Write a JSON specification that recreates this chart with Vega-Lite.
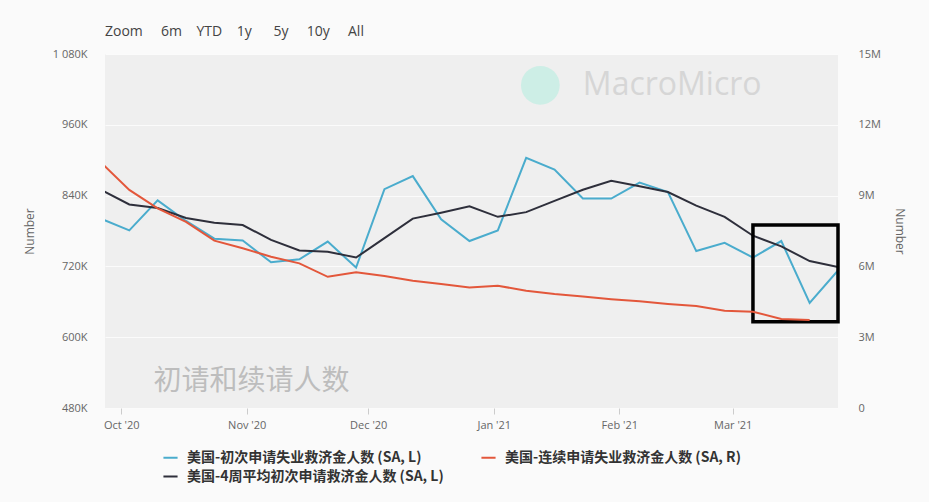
{
  "$schema": "https://vega.github.io/schema/vega-lite/v6.json",
  "width": 733,
  "height": 354,
  "autosize": {"type": "none"},
  "padding": {"left": 105, "top": 54, "right": 91, "bottom": 94},
  "background": "#fafafa",
  "title": {"text": "Zoom\u00a0\u00a0\u00a0\u00a0\u00a06m\u00a0\u00a0\u00a0\u00a0YTD\u00a0\u00a0\u00a0\u00a01y\u00a0\u00a0\u00a0\u00a0\u00a0\u00a05y\u00a0\u00a0\u00a0\u00a0\u00a010y\u00a0\u00a0\u00a0\u00a0\u00a0All", "anchor": "start", "frame": "group", "fontSize": 14, "font": "Open Sans", "fontWeight": "normal", "color": "#444444", "offset": 9},
  "config": {
    "view": {"fill": "#efefef", "stroke": null},
    "axis": {"labelFont": "Open Sans", "labelFontSize": 11, "labelColor": "#666666", "titleFont": "Open Sans", "titleFontSize": 12, "titleColor": "#666666", "titleFontWeight": "normal", "domain": false},
    "legend": {"labelFont": "Noto Sans CJK SC", "labelFontSize": 14, "labelFontWeight": "bold", "labelColor": "#333333", "labelLimit": 600}
  },
  "datasets": {
    "claims": [
      {"date": "2020-09-26", "series": "ic", "value": 801000},
      {"date": "2020-10-03", "series": "ic", "value": 781000},
      {"date": "2020-10-10", "series": "ic", "value": 832000},
      {"date": "2020-10-17", "series": "ic", "value": 797000},
      {"date": "2020-10-24", "series": "ic", "value": 767000},
      {"date": "2020-10-31", "series": "ic", "value": 764000},
      {"date": "2020-11-07", "series": "ic", "value": 727000},
      {"date": "2020-11-14", "series": "ic", "value": 732000},
      {"date": "2020-11-21", "series": "ic", "value": 762000},
      {"date": "2020-11-28", "series": "ic", "value": 718000},
      {"date": "2020-12-05", "series": "ic", "value": 851000},
      {"date": "2020-12-12", "series": "ic", "value": 873000},
      {"date": "2020-12-19", "series": "ic", "value": 800000},
      {"date": "2020-12-26", "series": "ic", "value": 763000},
      {"date": "2021-01-02", "series": "ic", "value": 781000},
      {"date": "2021-01-09", "series": "ic", "value": 904000},
      {"date": "2021-01-16", "series": "ic", "value": 884000},
      {"date": "2021-01-23", "series": "ic", "value": 835000},
      {"date": "2021-01-30", "series": "ic", "value": 835000},
      {"date": "2021-02-06", "series": "ic", "value": 862000},
      {"date": "2021-02-13", "series": "ic", "value": 846000},
      {"date": "2021-02-20", "series": "ic", "value": 746000},
      {"date": "2021-02-27", "series": "ic", "value": 760000},
      {"date": "2021-03-06", "series": "ic", "value": 735000},
      {"date": "2021-03-13", "series": "ic", "value": 763000},
      {"date": "2021-03-20", "series": "ic", "value": 658000},
      {"date": "2021-03-27", "series": "ic", "value": 713000},
      {"date": "2020-09-26", "series": "avg", "value": 850000},
      {"date": "2020-10-03", "series": "avg", "value": 825000},
      {"date": "2020-10-10", "series": "avg", "value": 819000},
      {"date": "2020-10-17", "series": "avg", "value": 802000},
      {"date": "2020-10-24", "series": "avg", "value": 794000},
      {"date": "2020-10-31", "series": "avg", "value": 790000},
      {"date": "2020-11-07", "series": "avg", "value": 765000},
      {"date": "2020-11-14", "series": "avg", "value": 747000},
      {"date": "2020-11-21", "series": "avg", "value": 745000},
      {"date": "2020-11-28", "series": "avg", "value": 735000},
      {"date": "2020-12-05", "series": "avg", "value": 768000},
      {"date": "2020-12-12", "series": "avg", "value": 801000},
      {"date": "2020-12-19", "series": "avg", "value": 811000},
      {"date": "2020-12-26", "series": "avg", "value": 822000},
      {"date": "2021-01-02", "series": "avg", "value": 804000},
      {"date": "2021-01-09", "series": "avg", "value": 812000},
      {"date": "2021-01-16", "series": "avg", "value": 831000},
      {"date": "2021-01-23", "series": "avg", "value": 850000},
      {"date": "2021-01-30", "series": "avg", "value": 865000},
      {"date": "2021-02-06", "series": "avg", "value": 856000},
      {"date": "2021-02-13", "series": "avg", "value": 846000},
      {"date": "2021-02-20", "series": "avg", "value": 823000},
      {"date": "2021-02-27", "series": "avg", "value": 804000},
      {"date": "2021-03-06", "series": "avg", "value": 772000},
      {"date": "2021-03-13", "series": "avg", "value": 754000},
      {"date": "2021-03-20", "series": "avg", "value": 729000},
      {"date": "2021-03-27", "series": "avg", "value": 719000},
      {"date": "2020-09-26", "series": "cc", "value": 10400000},
      {"date": "2020-10-03", "series": "cc", "value": 9240000},
      {"date": "2020-10-10", "series": "cc", "value": 8460000},
      {"date": "2020-10-17", "series": "cc", "value": 7890000},
      {"date": "2020-10-24", "series": "cc", "value": 7090000},
      {"date": "2020-10-31", "series": "cc", "value": 6770000},
      {"date": "2020-11-07", "series": "cc", "value": 6410000},
      {"date": "2020-11-14", "series": "cc", "value": 6130000},
      {"date": "2020-11-21", "series": "cc", "value": 5560000},
      {"date": "2020-11-28", "series": "cc", "value": 5750000},
      {"date": "2020-12-05", "series": "cc", "value": 5590000},
      {"date": "2020-12-12", "series": "cc", "value": 5390000},
      {"date": "2020-12-19", "series": "cc", "value": 5250000},
      {"date": "2020-12-26", "series": "cc", "value": 5110000},
      {"date": "2021-01-02", "series": "cc", "value": 5180000},
      {"date": "2021-01-09", "series": "cc", "value": 4970000},
      {"date": "2021-01-16", "series": "cc", "value": 4830000},
      {"date": "2021-01-23", "series": "cc", "value": 4720000},
      {"date": "2021-01-30", "series": "cc", "value": 4610000},
      {"date": "2021-02-06", "series": "cc", "value": 4520000},
      {"date": "2021-02-13", "series": "cc", "value": 4410000},
      {"date": "2021-02-20", "series": "cc", "value": 4320000},
      {"date": "2021-02-27", "series": "cc", "value": 4120000},
      {"date": "2021-03-06", "series": "cc", "value": 4080000},
      {"date": "2021-03-13", "series": "cc", "value": 3770000},
      {"date": "2021-03-20", "series": "cc", "value": 3730000}
    ]
  },
  "layer": [
    {
      "layer": [
        {
          "data": {"values": [{}]},
          "mark": {"type": "text", "align": "left", "baseline": "middle", "font": "Noto Sans CJK SC", "fontSize": 28, "color": "#bdbdbd"},
          "encoding": {
            "x": {"datum": {"year": 2020, "month": 10, "date": 9, "utc": true}, "type": "temporal"},
            "y": {"datum": 524000, "type": "quantitative"},
            "text": {"value": "初请和续请人数"}
          }
        },
        {
          "data": {"values": [{}]},
          "mark": {"type": "point", "filled": true, "shape": "circle", "size": 1500, "color": "#cdeee6", "opacity": 1},
          "encoding": {
            "x": {"datum": {"year": 2021, "month": 1, "date": 12, "hours": 12, "utc": true}, "type": "temporal"},
            "y": {"datum": 1027000, "type": "quantitative"}
          }
        },
        {
          "data": {"values": [{}]},
          "mark": {"type": "text", "align": "left", "baseline": "middle", "font": "Open Sans", "fontSize": 32, "color": "#d6d6d6"},
          "encoding": {
            "x": {"datum": {"year": 2021, "month": 1, "date": 23, "utc": true}, "type": "temporal"},
            "y": {"datum": 1027000, "type": "quantitative"},
            "text": {"value": "MacroMicro"}
          }
        },
        {
          "data": {"name": "claims"},
          "transform": [{"filter": "datum.series != 'cc'"}],
          "mark": {"type": "line", "clip": true, "strokeWidth": 2},
          "encoding": {
            "x": {
              "field": "date", "type": "temporal",
              "scale": {"type": "utc", "domain": [{"year": 2020, "month": 9, "date": 27, "utc": true}, {"year": 2021, "month": 3, "date": 27, "utc": true}]},
              "axis": {
                "title": null, "format": "%b '%y", "grid": false, "ticks": true, "tickSize": 6, "tickColor": "#cccccc", "labelPadding": 5,
                "values": [
                  {"year": 2020, "month": 10, "date": 1, "utc": true},
                  {"year": 2020, "month": 11, "date": 1, "utc": true},
                  {"year": 2020, "month": 12, "date": 1, "utc": true},
                  {"year": 2021, "month": 1, "date": 1, "utc": true},
                  {"year": 2021, "month": 2, "date": 1, "utc": true},
                  {"year": 2021, "month": 3, "date": 1, "utc": true}
                ]
              }
            },
            "y": {
              "field": "value", "type": "quantitative",
              "scale": {"domain": [480000, 1080000], "nice": false, "zero": false},
              "axis": {
                "orient": "left", "title": "Number", "values": [480000, 600000, 720000, 840000, 960000, 1080000],
                "labelExpr": "datum.value == 1080000 ? '1 080K' : (datum.value / 1000) + 'K'",
                "grid": true, "gridColor": "#fbfbfb", "gridWidth": 1, "ticks": false, "labelPadding": 18, "titlePadding": 16
              }
            },
            "color": {
              "field": "series", "type": "nominal",
              "scale": {"domain": ["ic", "avg", "cc"], "range": ["#4aaccd", "#2e2f3b", "#e3573b"]},
              "legend": {
                "title": null, "orient": "none", "legendX": 57, "legendY": 395, "columns": 2, "columnPadding": 33, "rowPadding": 3,
                "symbolType": "stroke", "symbolStrokeWidth": 2, "symbolSize": 200, "labelOffset": 8,
                "labelExpr": "datum.value == 'ic' ? '美国-初次申请失业救济金人数 (SA, L)' : datum.value == 'cc' ? '美国-连续申请失业救济金人数 (SA, R)' : '美国-4周平均初次申请救济金人数 (SA, L)'"
              }
            }
          }
        },
        {
          "data": {"values": [{}]},
          "mark": {"type": "rect", "fillOpacity": 0, "stroke": "#000000", "strokeWidth": 3.5},
          "encoding": {
            "x": {"datum": {"year": 2021, "month": 3, "date": 6, "utc": true}, "type": "temporal"},
            "x2": {"datum": {"year": 2021, "month": 3, "date": 27, "utc": true}},
            "y": {"datum": 790000, "type": "quantitative"},
            "y2": {"datum": 626000}
          }
        }
      ]
    },
    {
      "data": {"name": "claims"},
      "transform": [{"filter": "datum.series == 'cc'"}],
      "mark": {"type": "line", "clip": true, "strokeWidth": 2},
      "encoding": {
        "x": {"field": "date", "type": "temporal"},
        "y": {
          "field": "value", "type": "quantitative",
          "scale": {"domain": [0, 15000000], "nice": false, "zero": true},
          "axis": {
            "orient": "right", "title": "Number", "values": [0, 3000000, 6000000, 9000000, 12000000, 15000000],
            "labelExpr": "datum.value == 0 ? '0' : (datum.value / 1000000) + 'M'",
            "grid": false, "ticks": false, "labelPadding": 20, "titlePadding": 12
          }
        },
        "color": {"field": "series", "type": "nominal"}
      }
    }
  ],
  "resolve": {"scale": {"y": "independent"}}
}
